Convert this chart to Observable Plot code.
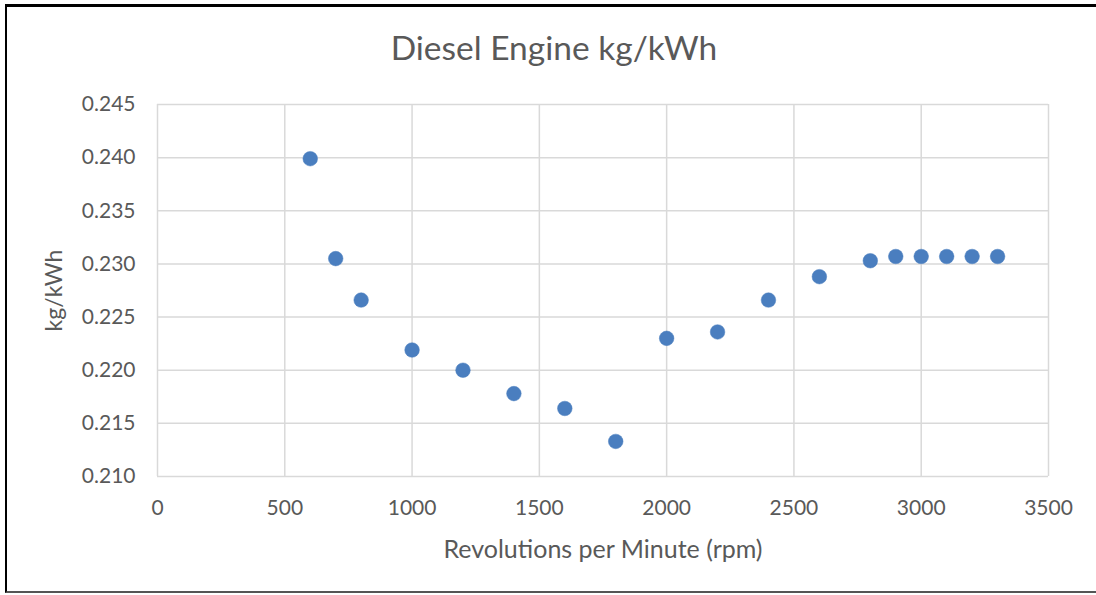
<!DOCTYPE html>
<html>
<head>
<meta charset="utf-8">
<script src="https://cdn.jsdelivr.net/npm/d3@7"></script>
<script src="https://cdn.jsdelivr.net/npm/@observablehq/plot@0.6"></script>
<style>
  html, body { margin: 0; padding: 0; background: #fff; }
  #wrap { position: relative; width: 1096px; height: 595px; overflow: hidden; font-family: Lato, "Open Sans", sans-serif; }
  #frame { position: absolute; left: 5px; top: 4px; width: 1100px; height: 589px; border-left: 2px solid #000; border-top: 3px solid #000; border-bottom: 2px solid #555; box-sizing: border-box; pointer-events: none; }
  #title { position: absolute; left: 0; top: 27px; width: 1108px; text-align: center; font-size: 33.5px; color: #595959; }
  #chart { position: absolute; left: 0; top: 0; }
  #chart svg g[aria-label="x-axis tick label"] text,
  #chart svg g[aria-label="y-axis tick label"] text { font-size: 21px; }
  #chart svg g[aria-label="x-axis label"] text { font-size: 25px; }
  #chart svg g[aria-label="y-axis label"] text { font-size: 23px; }
</style>
</head>
<body>
<div id="wrap">
  <div id="chart"></div>
  <div id="title">Diesel Engine kg/kWh</div>
  <div id="frame"></div>
</div>
<script>
const rpm = [600, 700, 800, 1000, 1200, 1400, 1600, 1800, 2000, 2200, 2400, 2600, 2800, 2900, 3000, 3100, 3200, 3300];
const kgPerKWh = [0.2399, 0.2305, 0.2266, 0.2219, 0.2200, 0.2178, 0.2164, 0.2133, 0.2230, 0.2236, 0.2266, 0.2288, 0.2303, 0.2307, 0.2307, 0.2307, 0.2307, 0.2307];
const xTicks = [0, 500, 1000, 1500, 2000, 2500, 3000, 3500];
const yTicks = [0.210, 0.215, 0.220, 0.225, 0.230, 0.235, 0.240, 0.245];

const data = rpm.map((r, i) => ({rpm: r, v: kgPerKWh[i]}));

const chart = Plot.plot({
  width: 1096,
  height: 595,
  marginLeft: 157,
  marginRight: 48,
  marginTop: 104,
  marginBottom: 119,
  style: {fontFamily: "Lato, 'Open Sans', sans-serif", color: "#595959", background: "transparent"},
  x: {domain: [0, 3500]},
  y: {domain: [0.210, 0.245]},
  marks: [
    Plot.gridX(xTicks, {stroke: "#d9d9d9", strokeOpacity: 1, strokeWidth: 1.5}),
    Plot.gridY(yTicks, {stroke: "#d9d9d9", strokeOpacity: 1, strokeWidth: 1.5}),
    Plot.axisX(xTicks, {tickSize: 0, tickPadding: 24, tickFormat: d3.format("d"), fill: "#595959", label: "Revolutions per Minute (rpm)", labelAnchor: "center", labelArrow: "none", labelOffset: 81}),
    Plot.axisY(yTicks, {tickSize: 0, tickPadding: 22, tickFormat: d3.format(".3f"), fill: "#595959", label: "kg/kWh", labelAnchor: "center", labelArrow: "none", labelOffset: 112}),
    Plot.dot(data, {x: "rpm", y: "v", r: 7.3, fill: "#4a7ebf", stroke: "#4a7ebf", strokeWidth: 0.5})
  ]
});
document.getElementById("chart").appendChild(chart);
</script>
</body>
</html>
